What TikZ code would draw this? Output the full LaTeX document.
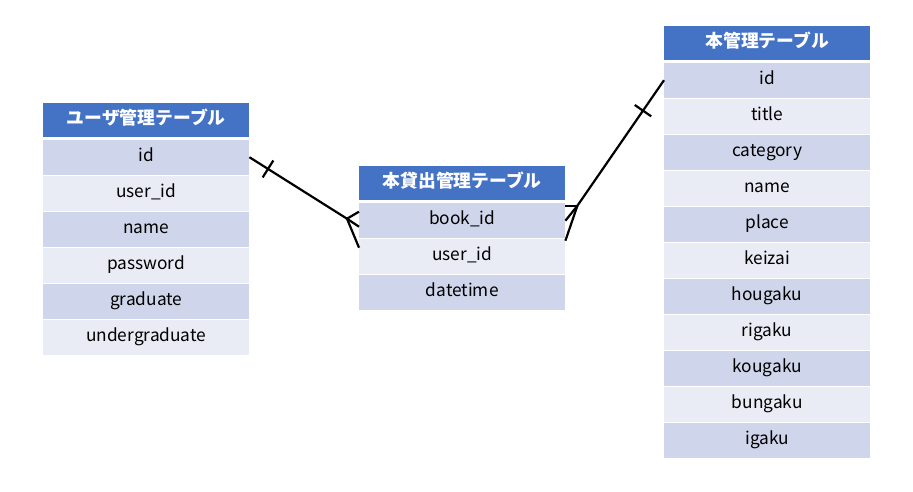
\documentclass[tikz,border=0pt]{standalone}
\usepackage{fontspec}
\setmainfont{Noto Sans CJK JP}
\usepackage{tikz}
\usetikzlibrary{matrix}
\usetikzlibrary{calc}
\definecolor{headblue}{HTML}{4472C4}
\definecolor{rowdark}{HTML}{CFD5EA}
\definecolor{rowlight}{HTML}{E9EBF5}
\tikzset{cell style er/.style={rectangle, inner sep=0pt, minimum width=206pt, minimum height=35pt,
           text height=12.5pt, text depth=4pt, font=\fontsize{17.3}{20}\selectfont},
         head style er/.style={fill=headblue, text=white, minimum height=34pt, font=\fontsize{17.8}{20}\selectfont\bfseries},
         table er/.style={matrix of nodes, anchor=north west, inner sep=0pt, row sep=1pt,
           nodes={cell style er},
           every odd row/.style={nodes={fill=rowlight}},
           every even row/.style={nodes={fill=rowdark}}},
         link er/.style={line width=2.2pt}}

\begin{document}
\begin{tikzpicture}[x=1pt,y=-1pt]
   \useasboundingbox (0,0) rectangle (913,491);

   \matrix (user) [table er] at (43,103)
   {|[head style er]| ユーザ管理テーブル\\[1.5pt]
    id\\
    user\_id\\
    name\\
    password\\
    graduate\\
    undergraduate\\
   };

   \matrix (lend) [table er] at (359,166)
   {|[head style er]| 本貸出管理テーブル\\[1.5pt]
    book\_id\\
    user\_id\\
    datetime\\
   };

   \matrix (book) [table er] at (664,26)
   {|[head style er]| 本管理テーブル\\[1.5pt]
    id\\
    title\\
    category\\
    name\\
    place\\
    keizai\\
    hougaku\\
    rigaku\\
    kougaku\\
    bungaku\\
    igaku\\
   };

   % crow's feet on the lending table
   \coordinate (fl) at ($(lend-2-1.west) + (-12,-1.5)$);
   \coordinate (fr) at ($(lend-2-1.east) + (12,-14.5)$);

   \draw [link er] (user-2-1.east) -- (fl);
   \draw [link er] ($($(user-2-1.east)!22pt!(fl)$)!10pt!90:(fl)$) -- ($($(user-2-1.east)!22pt!(fl)$)!10pt!-90:(fl)$);
   \draw [link er] (fl) -- ($(lend-2-1.west) + (0,-8.5)$);
   \draw [link er] (fl) -- ($(lend-2-1.west) + (0,6.5)$);
   \draw [link er] (fl) -- ($(lend-2-1.west) + (0,27.5)$);

   \draw [link er] (book-2-1.west) -- (fr);
   \draw [link er] ($($(book-2-1.west)!37pt!(fr)$)!10pt!90:(fr)$) -- ($($(book-2-1.west)!37pt!(fr)$)!10pt!-90:(fr)$);
   \draw [link er] (fr) -- ($(lend-2-1.east) + (0,-14.5)$);
   \draw [link er] (fr) -- ($(lend-2-1.east) + (0,0.5)$);
   \draw [link er] (fr) -- ($(lend-2-1.east) + (0,20.5)$);
\end{tikzpicture}
\end{document}
